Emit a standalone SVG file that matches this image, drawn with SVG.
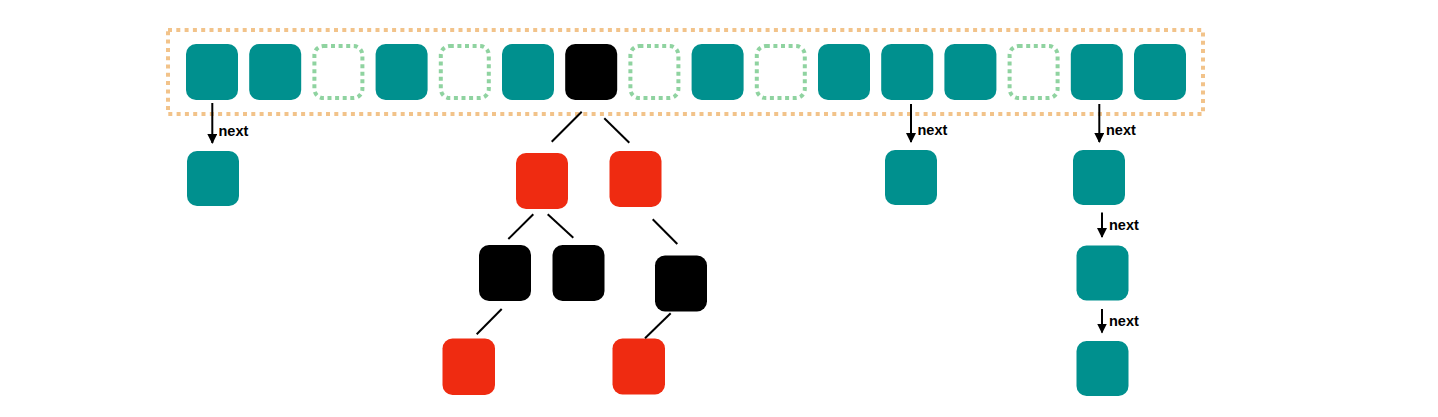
<svg xmlns="http://www.w3.org/2000/svg" width="1438" height="417" viewBox="0 0 1438 417">
<style>
.teal{fill:#00908E}
.red{fill:#EF2B11}
.blk{fill:#000}
.empty{fill:none;stroke:#8FD3A0;stroke-width:4;stroke-dasharray:4 3.6}
.edge{stroke:#000;stroke-width:2;fill:none}
.arr{stroke:#000;stroke-width:2;fill:none;marker-end:url(#ah)}
.lbl{font-family:"Liberation Sans",Arial,sans-serif;font-weight:bold;font-size:14.5px;fill:#000}
</style>
<defs>
<marker id="ah" viewBox="0 0 10 10" refX="9" refY="5" markerWidth="5" markerHeight="5" orient="auto" markerUnits="strokeWidth">
<path d="M0,0 L10,5 L0,10 z" fill="#000"/>
</marker>
</defs>
<rect width="1438" height="417" fill="#fff"/>
<g id="table">
<rect x="168" y="30" width="1035" height="84" fill="none" stroke="#F2C38A" stroke-width="4" stroke-dasharray="4 4.3"/>
</g>
<g id="cell0"><rect class="teal" x="186" y="44" width="52" height="56" rx="10"/></g>
<g id="cell1"><rect class="teal" x="249.2" y="44" width="52" height="56" rx="10"/></g>
<g id="cell2"><rect class="empty" x="314.4" y="46" width="48" height="52" rx="9"/></g>
<g id="cell3"><rect class="teal" x="375.6" y="44" width="52" height="56" rx="10"/></g>
<g id="cell4"><rect class="empty" x="440.8" y="46" width="48" height="52" rx="9"/></g>
<g id="cell5"><rect class="teal" x="502" y="44" width="52" height="56" rx="10"/></g>
<g id="cell6"><rect class="blk" x="565.2" y="44" width="52" height="56" rx="10"/></g>
<g id="cell7"><rect class="empty" x="630.4" y="46" width="48" height="52" rx="9"/></g>
<g id="cell8"><rect class="teal" x="691.6" y="44" width="52" height="56" rx="10"/></g>
<g id="cell9"><rect class="empty" x="756.8" y="46" width="48" height="52" rx="9"/></g>
<g id="cell10"><rect class="teal" x="818" y="44" width="52" height="56" rx="10"/></g>
<g id="cell11"><rect class="teal" x="881.2" y="44" width="52" height="56" rx="10"/></g>
<g id="cell12"><rect class="teal" x="944.4" y="44" width="52" height="56" rx="10"/></g>
<g id="cell13"><rect class="empty" x="1009.6" y="46" width="48" height="52" rx="9"/></g>
<g id="cell14"><rect class="teal" x="1070.8" y="44" width="52" height="56" rx="10"/></g>
<g id="cell15"><rect class="teal" x="1134" y="44" width="52" height="56" rx="10"/></g>

<g id="list0a"><rect class="teal" x="187" y="151" width="52" height="55" rx="10"/></g>
<g id="list11a"><rect class="teal" x="885" y="150" width="52" height="55" rx="10"/></g>
<g id="list14a"><rect class="teal" x="1073" y="150" width="52" height="55" rx="10"/></g>
<g id="list14b"><rect class="teal" x="1076.5" y="245.5" width="52" height="55" rx="10"/></g>
<g id="list14c"><rect class="teal" x="1076.5" y="341" width="52" height="55" rx="10"/></g>

<g id="treeL"><rect class="red" x="516" y="153" width="52" height="56" rx="10"/></g>
<g id="treeR"><rect class="red" x="609.5" y="151" width="52" height="56" rx="10"/></g>
<g id="treeLL"><rect class="blk" x="479" y="245" width="52" height="56" rx="10"/></g>
<g id="treeLR"><rect class="blk" x="552.5" y="245" width="52" height="56" rx="10"/></g>
<g id="treeRR"><rect class="blk" x="655" y="255.5" width="52" height="56" rx="10"/></g>
<g id="treeLLL"><rect class="red" x="442.5" y="338.5" width="52.5" height="56.5" rx="10"/></g>
<g id="treeRRL"><rect class="red" x="612.5" y="338.5" width="52.5" height="56" rx="10"/></g>

<g id="connectors">
<line class="arr" x1="212.3" y1="103" x2="212.3" y2="143"/>
<line class="arr" x1="911" y1="104" x2="911" y2="142"/>
<line class="arr" x1="1099.3" y1="104" x2="1099.3" y2="142"/>
<line class="arr" x1="1102" y1="212.5" x2="1102" y2="237"/>
<line class="arr" x1="1102" y1="309" x2="1102" y2="332.5"/>
<line class="edge" x1="581.7" y1="111.7" x2="551.7" y2="141.7"/>
<line class="edge" x1="604.3" y1="118.3" x2="629.3" y2="142.7"/>
<line class="edge" x1="533.3" y1="214.3" x2="508.3" y2="239"/>
<line class="edge" x1="547.7" y1="214.3" x2="573.3" y2="237.7"/>
<line class="edge" x1="652.7" y1="219.3" x2="677.3" y2="244"/>
<line class="edge" x1="501.7" y1="309" x2="476.7" y2="334.3"/>
<line class="edge" x1="670.7" y1="313.3" x2="645" y2="338.3"/>
<text class="lbl" x="218.5" y="136">next</text>
<text class="lbl" x="917.5" y="135">next</text>
<text class="lbl" x="1106" y="135">next</text>
<text class="lbl" x="1109" y="230">next</text>
<text class="lbl" x="1109" y="326">next</text>
</g>
</svg>
